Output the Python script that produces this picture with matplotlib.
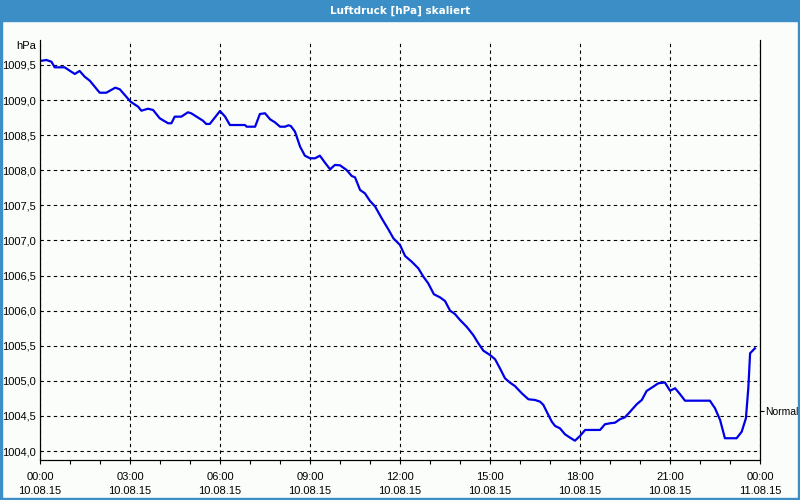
import matplotlib
matplotlib.use("Agg")
import matplotlib.pyplot as plt
from matplotlib.patches import Rectangle

# Luftdruck-Verlauf 10.08.15, Zeit in Stunden ab 00:00
hours = [0.0, 0.21, 0.38, 0.49, 0.82, 0.99, 1.16, 1.32, 1.49, 1.66, 1.99, 2.21,
         2.51, 2.66, 3.02, 3.27, 3.38, 3.6, 3.77, 3.99, 4.27, 4.38, 4.49, 4.71,
         4.93, 5.04, 5.43, 5.54, 5.66, 6.0, 6.17, 6.33, 6.83, 6.89, 7.17, 7.33,
         7.5, 7.67, 7.83, 8.0, 8.17, 8.28, 8.36, 8.5, 8.67, 8.83, 9.0, 9.17,
         9.33, 9.5, 9.67, 9.83, 10.0, 10.22, 10.39, 10.5, 10.67, 10.83, 11.0,
         11.17, 11.39, 11.61, 11.78, 12.0, 12.17, 12.39, 12.61, 12.78, 12.94,
         13.13, 13.33, 13.5, 13.67, 13.83, 14.0, 14.22, 14.44, 14.61, 14.78,
         15.0, 15.17, 15.33, 15.5, 15.67, 15.83, 16.06, 16.28, 16.5, 16.67,
         16.78, 16.89, 17.06, 17.17, 17.33, 17.5, 17.67, 17.83, 18.0, 18.17,
         18.67, 18.83, 19.0, 19.17, 19.33, 19.5, 19.67, 19.89, 20.06, 20.22,
         20.44, 20.61, 20.83, 21.0, 21.17, 21.33, 21.5, 22.33, 22.5, 22.67,
         22.83, 23.22, 23.39, 23.53, 23.61, 23.67, 23.83]
pressure = [1009.557, 1009.571, 1009.547, 1009.467, 1009.467, 1009.419, 1009.372,
            1009.415, 1009.333, 1009.276, 1009.105, 1009.105, 1009.177, 1009.154,
            1008.977, 1008.906, 1008.849, 1008.877, 1008.859, 1008.741, 1008.670,
            1008.670, 1008.764, 1008.764, 1008.826, 1008.812, 1008.707, 1008.660,
            1008.660, 1008.845, 1008.764, 1008.645, 1008.645, 1008.621, 1008.621,
            1008.802, 1008.812, 1008.726, 1008.684, 1008.621, 1008.621, 1008.641,
            1008.631, 1008.550, 1008.336, 1008.208, 1008.171, 1008.171, 1008.208,
            1008.108, 1008.014, 1008.076, 1008.071, 1008.004, 1007.919, 1007.900,
            1007.719, 1007.672, 1007.563, 1007.484, 1007.316, 1007.160, 1007.031,
            1006.936, 1006.779, 1006.698, 1006.604, 1006.484, 1006.390, 1006.234,
            1006.191, 1006.138, 1006.000, 1005.953, 1005.868, 1005.772, 1005.654,
            1005.536, 1005.430, 1005.369, 1005.308, 1005.180, 1005.037, 1004.974,
            1004.927, 1004.823, 1004.738, 1004.728, 1004.704, 1004.657, 1004.561,
            1004.419, 1004.358, 1004.325, 1004.239, 1004.191, 1004.148, 1004.215,
            1004.301, 1004.301, 1004.382, 1004.396, 1004.405, 1004.453, 1004.482,
            1004.561, 1004.667, 1004.728, 1004.856, 1004.917, 1004.966, 1004.977,
            1004.860, 1004.895, 1004.813, 1004.718, 1004.718, 1004.610, 1004.443,
            1004.183, 1004.183, 1004.276, 1004.467, 1004.895, 1005.393, 1005.464]

tick_hours = [0, 3, 6, 9, 12, 15, 18, 21, 24]
tick_labels = ["00:00\n10.08.15", "03:00\n10.08.15", "06:00\n10.08.15",
               "09:00\n10.08.15", "12:00\n10.08.15", "15:00\n10.08.15",
               "18:00\n10.08.15", "21:00\n10.08.15", "00:00\n11.08.15"]
y_ticks = [1004.0, 1004.5, 1005.0, 1005.5, 1006.0, 1006.5, 1007.0, 1007.5,
           1008.0, 1008.5, 1009.0, 1009.5]
normal_level = 1004.57

title_color = "#3c8fc6"
bg_color = "#fbfdfb"
line_color = "#0000e6"
fs = 8

plt.rcParams["font.family"] = "Liberation Sans"
fig = plt.figure(figsize=(8, 5), dpi=100, facecolor=bg_color)

# Titelleiste und Rahmen
fig.patches.append(Rectangle((0, 0.958), 1, 0.042, transform=fig.transFigure,
                             color=title_color, zorder=0))
fig.patches.append(Rectangle((0, 0), 0.0025, 1, transform=fig.transFigure,
                             color=title_color, zorder=0))
fig.patches.append(Rectangle((0.9975, 0), 0.0025, 1, transform=fig.transFigure,
                             color=title_color, zorder=0))
fig.patches.append(Rectangle((0, 0), 1, 0.004, transform=fig.transFigure,
                             color=title_color, zorder=0))
fig.text(0.5, 0.979, "Luftdruck [hPa] skaliert", color="white", fontsize=7.5,
         fontweight="bold", ha="center", va="center", family="DejaVu Sans")

ax = fig.add_axes([0.05, 0.08, 0.90, 0.84])
ax.set_facecolor(bg_color)
ax.plot(hours, pressure, color=line_color, linewidth=1.6, solid_joinstyle="round")

ax.set_xlim(0, 24)
ax.set_ylim(1003.873, 1009.856)
ax.set_xticks(tick_hours)
ax.set_xticklabels(tick_labels, fontsize=fs, linespacing=1.45)
ax.set_xticks(range(0, 25), minor=True)
ax.set_yticks(y_ticks)
ax.set_yticklabels([f"{v:.1f}".replace(".", ",") for v in y_ticks], fontsize=fs)
ax.tick_params(axis="y", length=0, pad=3)
ax.tick_params(axis="x", which="both", length=3, width=0.8, pad=6)

ax.grid(True, color="black", linestyle=(0, (3, 3)), linewidth=0.8)
ax.spines["top"].set_visible(False)
for s in ["left", "bottom", "right"]:
    ax.spines[s].set_linewidth(0.8)

ax.text(-0.006, 0.985, "hPa", transform=ax.transAxes, ha="right", va="center",
        fontsize=fs)

ax2 = ax.twinx()
ax2.set_ylim(ax.get_ylim())
ax2.set_yticks([normal_level])
ax2.set_yticklabels(["Normal"], fontsize=7.5)
ax2.tick_params(axis="y", length=3, width=0.8, pad=1)
ax2.spines["top"].set_visible(False)
ax2.spines["right"].set_linewidth(0.8)

fig.savefig("out.png", dpi=100, facecolor=bg_color)
